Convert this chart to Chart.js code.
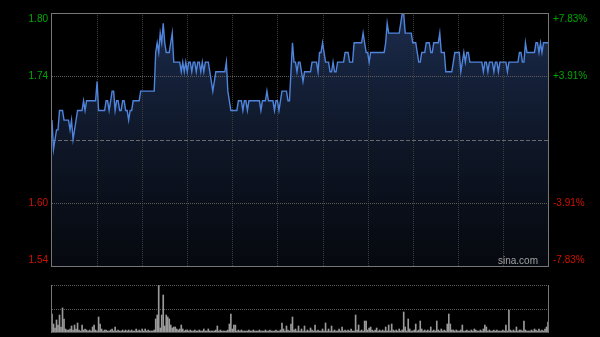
<!DOCTYPE html>
<html>
<head>
<meta charset="utf-8">
<script src="https://cdn.jsdelivr.net/npm/chart.js@4.4.1/dist/chart.umd.min.js"></script>
<style>
  html, body { margin: 0; padding: 0; background: #000; }
  #wrap { position: relative; width: 600px; height: 337px; overflow: hidden; background: #000; }
  #price { position: absolute; left: 0; top: 0; width: 600px; height: 272px; }
  #vol { position: absolute; left: 0; top: 270px; width: 600px; height: 67px; }
</style>
</head>
<body>
<div id="wrap">
  <canvas id="price" width="600" height="272"></canvas>
  <canvas id="vol" width="600" height="67"></canvas>
</div>
<script>
// previous close and the +/- range shown on the axes
const prevClose = 1.67;
const pctRange = 7.83;

// tick labels, top to bottom (centre line has none)
const leftTicks = ['1.80', '1.74', '', '1.60', '1.54'];
const rightTicks = ['+7.83%', '+3.91%', '', '-3.91%', '-7.83%'];

// minute prices, 09:30 -> 16:00 (331 points)
const prices = [
  1.69,1.66,1.67,1.68,1.68,1.70,1.70,1.70,1.69,1.69,
  1.69,1.69,1.68,1.69,1.67,1.68,1.69,1.70,1.70,1.70,
  1.70,1.71,1.70,1.71,1.71,1.71,1.71,1.71,1.71,1.71,
  1.73,1.70,1.70,1.70,1.70,1.70,1.71,1.71,1.70,1.71,
  1.72,1.72,1.70,1.71,1.71,1.70,1.70,1.71,1.71,1.70,
  1.70,1.69,1.70,1.70,1.71,1.71,1.71,1.71,1.71,1.72,
  1.72,1.72,1.72,1.72,1.72,1.72,1.72,1.72,1.72,1.76,
  1.77,1.76,1.78,1.77,1.79,1.77,1.76,1.76,1.76,1.77,
  1.78,1.75,1.75,1.75,1.75,1.75,1.74,1.75,1.74,1.75,
  1.74,1.75,1.75,1.74,1.75,1.75,1.74,1.75,1.75,1.74,
  1.75,1.74,1.75,1.75,1.75,1.74,1.73,1.72,1.73,1.74,
  1.74,1.74,1.74,1.74,1.74,1.74,1.75,1.72,1.71,1.70,
  1.70,1.70,1.70,1.70,1.71,1.71,1.71,1.70,1.71,1.71,
  1.70,1.71,1.71,1.71,1.71,1.71,1.71,1.71,1.71,1.70,
  1.71,1.71,1.71,1.72,1.71,1.71,1.71,1.71,1.70,1.71,
  1.71,1.70,1.71,1.72,1.72,1.72,1.72,1.71,1.71,1.74,
  1.77,1.75,1.75,1.74,1.75,1.75,1.74,1.73,1.74,1.74,
  1.74,1.74,1.74,1.75,1.75,1.75,1.75,1.74,1.76,1.76,
  1.77,1.76,1.75,1.75,1.75,1.74,1.74,1.75,1.74,1.74,
  1.75,1.75,1.75,1.75,1.75,1.76,1.76,1.76,1.75,1.75,
  1.75,1.77,1.77,1.77,1.77,1.77,1.77,1.78,1.77,1.76,
  1.76,1.75,1.76,1.76,1.76,1.76,1.76,1.76,1.76,1.76,
  1.76,1.76,1.77,1.79,1.78,1.78,1.78,1.78,1.78,1.78,
  1.78,1.78,1.79,1.80,1.80,1.78,1.78,1.78,1.78,1.78,
  1.77,1.77,1.77,1.76,1.75,1.75,1.76,1.76,1.76,1.77,
  1.77,1.77,1.76,1.76,1.77,1.77,1.77,1.77,1.78,1.76,
  1.76,1.76,1.74,1.74,1.74,1.74,1.74,1.75,1.76,1.76,
  1.76,1.76,1.74,1.75,1.76,1.75,1.76,1.76,1.75,1.75,
  1.75,1.75,1.75,1.75,1.75,1.75,1.75,1.74,1.75,1.75,
  1.74,1.75,1.75,1.75,1.74,1.75,1.75,1.74,1.75,1.75,
  1.75,1.75,1.75,1.74,1.75,1.75,1.75,1.75,1.75,1.75,
  1.75,1.76,1.76,1.75,1.75,1.77,1.76,1.76,1.76,1.76,
  1.76,1.76,1.77,1.77,1.76,1.77,1.76,1.77,1.77,1.77,
  1.77
];

// minute volume (relative units)
const volumes = [
  18,8,4,12,7,17,5,24,13,3,
  2,2,3,6,2,7,3,9,2,1,
  7,2,3,2,1,2,1,5,7,2,
  1,15,8,3,1,2,2,1,1,2,
  3,1,5,1,2,1,1,2,1,2,
  1,2,1,2,1,1,3,1,2,1,
  3,1,3,1,2,1,1,1,2,13,
  17,47,4,17,37,6,17,15,13,7,
  4,5,5,3,2,3,7,3,1,2,
  2,1,2,1,1,2,1,1,2,1,
  1,3,1,1,3,1,1,1,1,2,
  6,1,2,1,1,1,1,2,8,18,
  3,7,7,1,2,1,2,1,1,1,
  1,2,1,1,2,1,1,1,2,1,
  1,1,2,1,1,2,1,1,1,2,
  1,1,2,9,3,1,6,2,1,8,
  15,2,3,1,6,1,3,1,6,1,
  2,1,4,2,1,7,1,2,1,1,
  3,1,9,1,3,1,6,1,2,1,
  1,3,1,5,1,2,1,2,1,3,
  1,1,17,2,7,1,2,1,11,11,
  2,4,5,2,1,2,4,1,2,1,
  2,1,5,1,7,1,8,2,1,2,
  1,3,1,2,20,5,1,13,3,1,
  1,2,8,1,2,11,3,1,2,1,
  2,1,5,1,2,1,11,2,1,3,
  1,2,1,8,18,8,2,2,1,2,
  1,1,2,7,1,1,2,1,1,2,
  1,3,2,1,1,2,1,3,7,5,
  1,2,1,1,2,1,2,1,1,1,
  2,1,7,1,22,2,1,2,1,5,
  1,2,2,1,11,2,1,1,1,2,
  1,3,2,1,3,1,2,1,3,5,
  10
];

// time labels: 09:30-12:00, 13:01-16:00
const times = [];
function pushRange(h0, m0, h1, m1) {
  for (let t = h0 * 60 + m0; t <= h1 * 60 + m1; t++) {
    times.push(String(Math.floor(t / 60)).padStart(2, '0') + ':' + String(t % 60).padStart(2, '0'));
  }
}
pushRange(9, 30, 12, 0);
pushRange(13, 1, 16, 0);

const yMax = prevClose * (1 + pctRange / 100);
const yMin = prevClose * (1 - pctRange / 100);
const levels = [yMax, prevClose * (1 + pctRange / 200), prevClose, prevClose * (1 - pctRange / 200), yMin];

const FONT = '10px "Liberation Sans", Arial, sans-serif';
const GREEN = '#00a800';
const RED = '#d01000';

function vLine(ctx, x, y0, y1) {
  ctx.beginPath(); ctx.moveTo(x, y0); ctx.lineTo(x, y1); ctx.stroke();
}
function hLine(ctx, y, x0, x1) {
  ctx.beginPath(); ctx.moveTo(x0, y); ctx.lineTo(x1, y); ctx.stroke();
}

const priceFrame = {
  id: 'priceFrame',
  beforeDatasetsDraw(chart) {
    const { ctx, chartArea: a, scales: { x, y } } = chart;
    ctx.save();
    ctx.lineWidth = 1;
    // half-hour verticals
    ctx.strokeStyle = '#3d3d3d';
    ctx.setLineDash([1, 1]);
    for (let i = 30; i < times.length - 1; i += 30) {
      vLine(ctx, Math.round(x.getPixelForValue(i)) + 0.5, a.top, a.bottom);
    }
    // horizontal levels
    levels.forEach((v, k) => {
      if (k === 0 || k === levels.length - 1) return;
      const py = Math.round(y.getPixelForValue(v)) + 0.5;
      if (v === prevClose) {
        ctx.strokeStyle = '#6a6a6a';
        ctx.setLineDash([4, 2]);
      } else {
        ctx.strokeStyle = '#5c5c5c';
        ctx.setLineDash([1, 1]);
      }
      hLine(ctx, py, a.left, a.right);
    });
    ctx.restore();
  },
  afterDraw(chart) {
    const { ctx, chartArea: a, scales: { y } } = chart;
    ctx.save();
    ctx.strokeStyle = '#767676';
    ctx.lineWidth = 1;
    ctx.strokeRect(a.left - 0.5, a.top + 0.5, a.right - a.left + 1, a.bottom - a.top);

    ctx.font = FONT;
    ctx.textBaseline = 'middle';
    levels.forEach((v, k) => {
      let py = y.getPixelForValue(v);
      py = Math.min(Math.max(py, a.top + 6), a.bottom - 6);
      ctx.fillStyle = v > prevClose ? GREEN : RED;
      ctx.textAlign = 'right';
      if (leftTicks[k]) ctx.fillText(leftTicks[k], 48, py);
      ctx.textAlign = 'left';
      if (rightTicks[k]) ctx.fillText(rightTicks[k], 553, py);
    });

    ctx.fillStyle = '#a0a0a0';
    ctx.textAlign = 'right';
    ctx.fillText('sina.com', 538, a.bottom - 5);
    ctx.restore();
  }
};

new Chart(document.getElementById('price'), {
  type: 'line',
  data: {
    labels: times,
    datasets: [{
      data: prices,
      borderColor: '#4f84dc',
      borderWidth: 1.4,
      pointRadius: 0,
      tension: 0,
      fill: 'start',
      backgroundColor(c) {
        const a = c.chart.chartArea;
        if (!a) return 'transparent';
        const g = c.chart.ctx.createLinearGradient(0, a.top, 0, a.bottom);
        g.addColorStop(0, 'rgba(50,80,140,0.55)');
        g.addColorStop(1, 'rgba(20,30,50,0.3)');
        return g;
      }
    }]
  },
  options: {
    responsive: false,
    animation: false,
    devicePixelRatio: 1,
    layout: { padding: { left: 52, right: 52, top: 13, bottom: 6 } },
    scales: {
      x: { display: false },
      y: { display: false, min: yMin, max: yMax }
    },
    plugins: {
      legend: { display: false },
      tooltip: { enabled: false },
      filler: { drawTime: 'beforeDatasetsDraw' }
    }
  },
  plugins: [priceFrame]
});

const volFrame = {
  id: 'volFrame',
  beforeDatasetsDraw(chart) {
    const { ctx, chartArea: a, scales: { y } } = chart;
    ctx.save();
    ctx.strokeStyle = '#5c5c5c';
    ctx.lineWidth = 1;
    ctx.setLineDash([1, 1]);
    [y.max, y.max / 2].forEach(v => {
      hLine(ctx, Math.round(y.getPixelForValue(v)) + 0.5, a.left, a.right);
    });
    ctx.restore();
  },
  afterDraw(chart) {
    const { ctx, chartArea: a } = chart;
    ctx.save();
    ctx.strokeStyle = '#767676';
    ctx.lineWidth = 1;
    vLine(ctx, a.left - 0.5, a.top, a.bottom + 1);
    vLine(ctx, a.right + 0.5, a.top, a.bottom + 1);
    ctx.strokeStyle = '#505050';
    hLine(ctx, a.bottom + 0.5, a.left, a.right);
    ctx.restore();
  }
};

new Chart(document.getElementById('vol'), {
  type: 'bar',
  data: {
    labels: times,
    datasets: [{
      data: volumes,
      backgroundColor: '#9a9a9a',
      barThickness: 1,
      borderWidth: 0
    }]
  },
  options: {
    responsive: false,
    animation: false,
    devicePixelRatio: 1,
    layout: { padding: { left: 52, right: 52, top: 15, bottom: 5 } },
    scales: {
      x: { display: false, offset: false },
      y: { display: false, min: 0, max: 47 }
    },
    plugins: {
      legend: { display: false },
      tooltip: { enabled: false }
    }
  },
  plugins: [volFrame]
});
</script>
</body>
</html>
